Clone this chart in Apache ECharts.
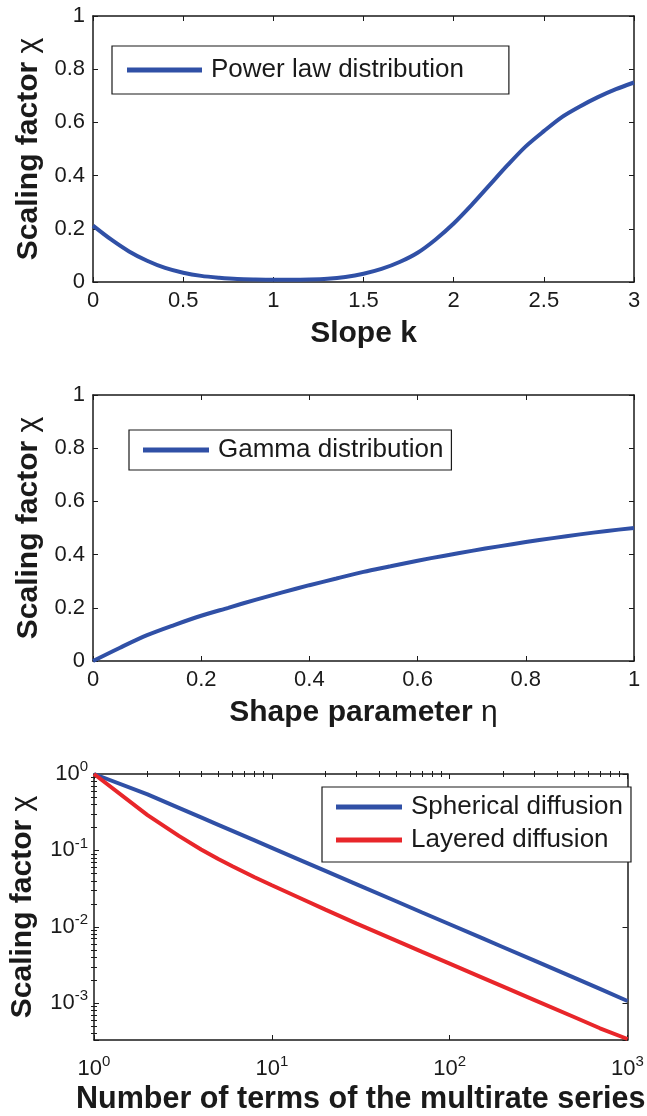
<!DOCTYPE html>
<html>
<head>
<meta charset="utf-8">
<script src="https://cdn.jsdelivr.net/npm/echarts@6/dist/echarts.min.js"></script>
<style>
  html, body { margin: 0; padding: 0; background: #fff; }
  #chart { width: 647px; height: 1116px; }
</style>
</head>
<body>
<div id="chart"></div>
<script>
// panel 1: power law distribution
const kSlope = [0, 0.1, 0.2, 0.3, 0.4, 0.5, 0.6, 0.7, 0.8, 0.9, 1.0, 1.1, 1.2, 1.3, 1.4, 1.5,
  1.6, 1.7, 1.8, 1.9, 2.0, 2.1, 2.2, 2.3, 2.4, 2.5, 2.6, 2.7, 2.8, 2.9, 3.0];
const powerLawChi = [0.212, 0.16, 0.115, 0.08, 0.053, 0.035, 0.023, 0.016, 0.011, 0.009, 0.008,
  0.008, 0.009, 0.012, 0.019, 0.031, 0.049, 0.075, 0.11, 0.16, 0.22, 0.29, 0.365, 0.44, 0.51,
  0.567, 0.62, 0.66, 0.695, 0.725, 0.75];

// panel 2: gamma distribution
const etaShape = [0, 0.05, 0.1, 0.15, 0.2, 0.25, 0.3, 0.35, 0.4, 0.45, 0.5, 0.55, 0.6, 0.65,
  0.7, 0.75, 0.8, 0.85, 0.9, 0.95, 1.0];
const gammaChi = [0, 0.05, 0.097, 0.135, 0.17, 0.2, 0.23, 0.258, 0.285, 0.31, 0.335, 0.356,
  0.377, 0.396, 0.414, 0.431, 0.447, 0.462, 0.476, 0.489, 0.5];

// panel 3: multirate series (log-log)
const nTerms = [1, 2, 3, 4, 5, 6, 8, 10, 15, 20, 30, 50, 70, 100, 150, 200, 300, 500, 700, 1000];
const sphericalChi = [1, 0.54, 0.36, 0.27, 0.216, 0.18, 0.135, 0.108, 0.072, 0.054, 0.036, 0.0216,
  0.0154, 0.0108, 0.0072, 0.0054, 0.0036, 0.00216, 0.00154, 0.00107];
const layeredChi = [1, 0.29, 0.155, 0.103, 0.077, 0.062, 0.0445, 0.035, 0.0228, 0.0168, 0.011,
  0.0066, 0.0047, 0.0033, 0.0022, 0.00165, 0.0011, 0.00066, 0.00047, 0.00034];

// ticks
const linearYTicks = [0, 0.2, 0.4, 0.6, 0.8, 1];
const decadesX = [1, 10, 100, 1000];
const decadesY = [0.001, 0.01, 0.1, 1];
const minorFactors = [2, 3, 4, 5, 6, 7, 8, 9];
const logYMin = 0.00033;

const FONT = '"Liberation Sans", Arial, Helvetica, sans-serif';
const INK = '#1a1a1a';
const BLUE = '#3050a6';
const RED = '#e8262a';

function pairs(xs, ys) {
  return xs.map((x, i) => [x, ys[i]]);
}

// minor tick positions in log10 space
function minorLogTicks(decades) {
  let out = [];
  decades.forEach((d) => {
    minorFactors.forEach((f) => out.push(Math.log10(d * f)));
  });
  return out;
}

function supLabel(v) {
  let e = Math.log10(v);
  if (Math.abs(e - Math.round(e)) > 1e-6) return '';
  return '{b|10}{e|' + Math.round(e) + '}';
}

const richSup = {
  b: { fontSize: 22, fontFamily: FONT, color: INK },
  e: { fontSize: 15, fontFamily: FONT, color: INK, padding: [0, 0, 14, 0] },
};

const lineBase = {
  axisLine: { show: true, onZero: false, lineStyle: { color: INK, width: 1.5 } },
  axisTick: { show: true, inside: true, length: 5, lineStyle: { color: INK, width: 1 } },
  splitLine: { show: false },
};

function frame(gridIndex, position, more) {
  return Object.assign({
    gridIndex: gridIndex,
    position: position,
    axisLabel: { show: false },
  }, lineBase, more);
}

function mainAxis(gridIndex, position, more) {
  return Object.assign({
    gridIndex: gridIndex,
    position: position,
    nameLocation: 'middle',
    nameTextStyle: {
      fontFamily: FONT, fontSize: 30, fontWeight: 'bold', color: INK,
      rich: { g: { fontFamily: FONT, fontSize: 30, fontWeight: 'normal', color: INK } },
    },
    axisLabel: { fontFamily: FONT, fontSize: 22, color: INK, margin: 8 },
  }, lineBase, more);
}

function minorAxis(gridIndex, position, min, max, ticks) {
  return {
    type: 'value',
    gridIndex: gridIndex,
    position: position,
    min: min,
    max: max,
    axisLine: { show: false },
    axisLabel: { show: false },
    splitLine: { show: false },
    axisTick: { show: true, inside: true, length: 3, customValues: ticks, lineStyle: { color: INK, width: 1 } },
  };
}

const xLogMin = Math.log10(decadesX[0]);
const xLogMax = Math.log10(decadesX[decadesX.length - 1]);
const yLogMin = Math.log10(logYMin);
const yMinor = minorLogTicks([0.0001, 0.001, 0.01, 0.1]).filter((v) => v >= yLogMin);

const chart = echarts.init(document.getElementById('chart'));

const option = {
  backgroundColor: '#fff',
  animation: false,
  grid: [
    { left: 93, width: 541, top: 16, height: 266 },
    { left: 93, width: 541, top: 395, height: 266 },
    { left: 93, width: 541, top: 774, height: 268 },
  ],
  xAxis: [
    mainAxis(0, 'bottom', { type: 'value', min: 0, max: 3, interval: 0.5, name: 'Slope k', nameGap: 37 }),
    frame(0, 'top', { type: 'value', min: 0, max: 3, interval: 0.5 }),
    mainAxis(1, 'bottom', { type: 'value', min: 0, max: 1, interval: 0.2, name: 'Shape parameter {g|η}', nameGap: 37 }),
    frame(1, 'top', { type: 'value', min: 0, max: 1, interval: 0.2 }),
    mainAxis(2, 'bottom', {
      type: 'log', logBase: 10, min: decadesX[0], max: decadesX[3],
      name: 'Number of terms of the multirate series', nameGap: 44,
      nameTextStyle: { fontFamily: FONT, fontSize: 30.5, fontWeight: 'bold', color: INK },
      axisLabel: { fontFamily: FONT, color: INK, margin: 14, formatter: supLabel, rich: richSup },
    }),
    frame(2, 'top', { type: 'log', logBase: 10, min: decadesX[0], max: decadesX[3] }),
    minorAxis(2, 'bottom', xLogMin, xLogMax, minorLogTicks(decadesX.slice(0, 3))),
    minorAxis(2, 'top', xLogMin, xLogMax, minorLogTicks(decadesX.slice(0, 3))),
  ],
  yAxis: [
    mainAxis(0, 'left', { type: 'value', min: linearYTicks[0], max: 1, interval: 0.2, name: 'Scaling factor {g|χ}', nameGap: 47 }),
    frame(0, 'right', { type: 'value', min: 0, max: 1, interval: 0.2 }),
    mainAxis(1, 'left', { type: 'value', min: 0, max: 1, interval: 0.2, name: 'Scaling factor {g|χ}', nameGap: 47 }),
    frame(1, 'right', { type: 'value', min: 0, max: 1, interval: 0.2 }),
    mainAxis(2, 'left', {
      type: 'log', logBase: 10, min: logYMin, max: decadesY[3],
      name: 'Scaling factor {g|χ}', nameGap: 56,
      axisLabel: { fontFamily: FONT, color: INK, margin: 6, formatter: supLabel, rich: richSup },
    }),
    frame(2, 'right', { type: 'log', logBase: 10, min: logYMin, max: decadesY[3] }),
    minorAxis(2, 'left', yLogMin, 0, yMinor),
    minorAxis(2, 'right', yLogMin, 0, yMinor),
  ],
  legend: [
    {
      left: 112, top: 46, data: ['Power law distribution'],
      itemWidth: 75, padding: [11, 45, 11, 15],
    },
    {
      left: 129, top: 430, data: ['Gamma distribution'],
      itemWidth: 66, padding: [7, 8, 7, 14],
    },
    {
      left: 322, top: 787, orient: 'vertical', itemGap: 7,
      data: ['Spherical diffusion', 'Layered diffusion'],
      itemWidth: 66, padding: [7, 8, 9, 14],
    },
  ].map((l) => Object.assign({
    icon: 'rect',
    itemHeight: 5,
    selectedMode: false,
    backgroundColor: '#fff',
    borderColor: INK,
    borderWidth: 1.2,
    borderRadius: 0,
    textStyle: { fontFamily: FONT, fontSize: 26, color: INK, padding: [0, 0, 0, 4] },
  }, l)),
  series: [
    {
      name: 'Power law distribution', type: 'line', xAxisIndex: 0, yAxisIndex: 0,
      data: pairs(kSlope, powerLawChi), smooth: 0.3, showSymbol: false,
      lineStyle: { color: BLUE, width: 4 }, itemStyle: { color: BLUE },
    },
    {
      name: 'Gamma distribution', type: 'line', xAxisIndex: 2, yAxisIndex: 2,
      data: pairs(etaShape, gammaChi), smooth: 0.3, showSymbol: false,
      lineStyle: { color: BLUE, width: 4 }, itemStyle: { color: BLUE },
    },
    {
      name: 'Spherical diffusion', type: 'line', xAxisIndex: 4, yAxisIndex: 4,
      data: pairs(nTerms, sphericalChi), showSymbol: false,
      lineStyle: { color: BLUE, width: 4 }, itemStyle: { color: BLUE },
    },
    {
      name: 'Layered diffusion', type: 'line', xAxisIndex: 4, yAxisIndex: 4,
      data: pairs(nTerms, layeredChi), showSymbol: false,
      lineStyle: { color: RED, width: 4 }, itemStyle: { color: RED },
    },
  ],
};

chart.setOption(option);
</script>
</body>
</html>
